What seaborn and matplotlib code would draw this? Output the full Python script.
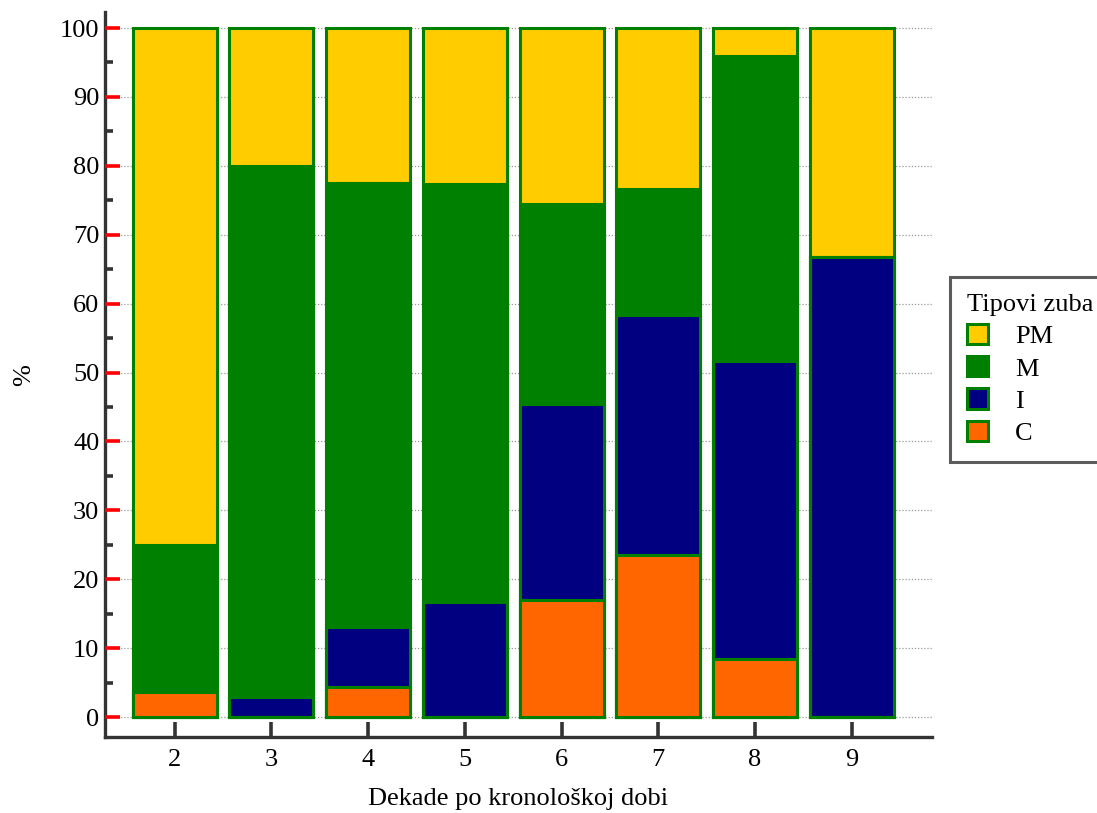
import numpy as np
import pandas as pd
import matplotlib
matplotlib.use("Agg")
import matplotlib.pyplot as plt
from matplotlib.patches import Patch
from matplotlib.ticker import FixedLocator
import seaborn as sns

# data (percent per decade)
decades = ["2", "3", "4", "5", "6", "7", "8", "9"]
c_vals = [3.6, 0.0, 4.3, 0.0, 17.0, 23.5, 8.4, 0.0]
i_vals = [0.0, 2.9, 8.7, 16.7, 28.4, 34.8, 43.3, 66.7]
m_vals = [21.4, 77.1, 64.5, 60.7, 29.1, 18.3, 44.2, 0.0]
pm_vals = [75.0, 20.0, 22.5, 22.6, 25.5, 23.4, 4.1, 33.3]
y_ticks = [0, 10, 20, 30, 40, 50, 60, 70, 80, 90, 100]
y_minor = [5, 15, 25, 35, 45, 55, 65, 75, 85, 95]

types = ["PM", "M", "I", "C"]
colors = {"PM": "#FFCC00", "M": "#008000", "I": "#000080", "C": "#FF6600"}
edge = "#008000"

df = pd.DataFrame({"Decade": decades, "C": c_vals, "I": i_vals,
                   "M": m_vals, "PM": pm_vals})
df["cum_C"] = df["C"]
df["cum_I"] = df["cum_C"] + df["I"]
df["cum_M"] = df["cum_I"] + df["M"]
df["cum_PM"] = df["cum_M"] + df["PM"]

sns.set_style("ticks")
plt.rcParams["font.family"] = ["Liberation Serif", "DejaVu Serif"]
plt.rcParams["text.color"] = "black"
plt.rcParams["axes.labelcolor"] = "black"

fig = plt.figure(figsize=(10.97, 8.13), dpi=100)
ax = fig.add_axes([0.0957, 0.0935, 0.754, 0.8915])

# draw cumulative totals from the top layer down
for t in types:
    sns.barplot(data=df, x="Decade", y="cum_" + t, color=colors[t],
                edgecolor=edge, linewidth=2.2, width=0.87, saturation=1,
                ax=ax, zorder=3)

ax.set_xlim(-0.72, 7.83)
ax.set_ylim(-2.9, 102.3)
ax.set_yticks(y_ticks)
ax.yaxis.set_minor_locator(FixedLocator(y_minor))
ax.set_axisbelow(False)

# dotted horizontal grid, below the ticks and bars
ax.hlines(y_ticks, -0.72, 7.83, colors="#999999", linestyles=(0, (1, 1.5)),
          linewidth=0.9, zorder=0.2)

for s in ["top", "right"]:
    ax.spines[s].set_visible(False)
for s in ["left", "bottom"]:
    ax.spines[s].set_color("#333333")
    ax.spines[s].set_linewidth(2.4)

ax.tick_params(axis="y", which="major", left=True, length=11, width=2.6,
               color="red", direction="in")
ax.tick_params(axis="y", which="minor", left=True, length=6, width=2.6,
               color="#333333", direction="in")
ax.tick_params(axis="y", which="major", labelsize=19, labelcolor="black",
               pad=4)
ax.tick_params(axis="x", bottom=True, direction="in", length=11, width=2.6,
               color="#333333")
ax.tick_params(axis="x", labelsize=19, labelcolor="black", pad=9)

ax.set_xlabel("Dekade po kronološkoj dobi", fontsize=19, labelpad=12)
ax.set_ylabel("%", fontsize=19, labelpad=18)

handles = [Patch(facecolor=colors[t], edgecolor=edge, linewidth=2.2, label=t)
           for t in types]
leg = ax.legend(handles=handles, title="Tipovi zuba", loc="center left",
                bbox_to_anchor=(1.0218, 0.507), borderaxespad=0,
                fontsize=19, title_fontsize=19,
                frameon=True, fancybox=False, borderpad=0.65,
                handlelength=0.8, handleheight=0.8, handletextpad=1.0,
                labelspacing=0.3, alignment="left")
leg.get_frame().set_edgecolor("#333333")
leg.get_frame().set_linewidth(2.2)

fig.savefig("out.png", dpi=100)
